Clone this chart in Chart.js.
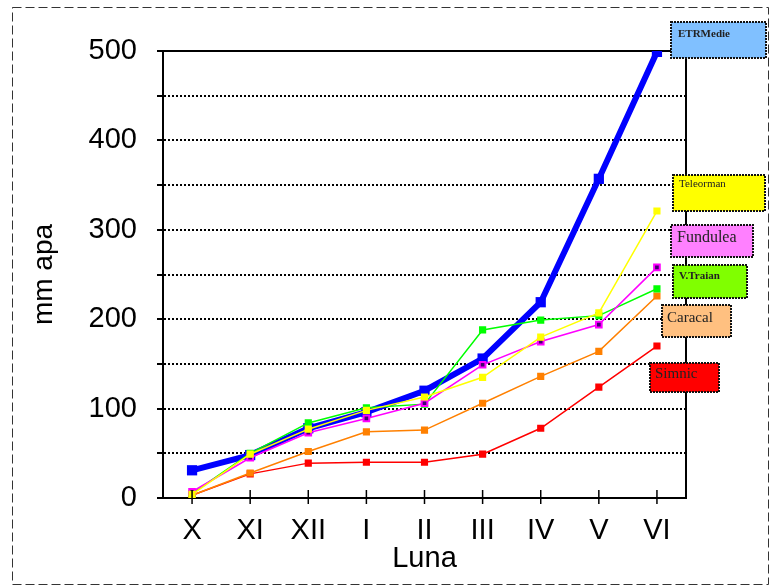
<!DOCTYPE html>
<html>
<head>
<meta charset="utf-8">
<script src="https://cdn.jsdelivr.net/npm/chart.js@4/dist/chart.umd.min.js"></script>
<style>
  body { margin: 0; background: #fff; }
  canvas { display: block; }
</style>
</head>
<body>
<canvas id="myChartLine" width="772" height="588"></canvas>
<script>
// luni
const luni = ['X', 'XI', 'XII', 'I', 'II', 'III', 'IV', 'V', 'VI'];

// mm apa cumulat
const etrMedie = [31, 48, 78, 96, 120, 156, 219, 357, 499];
const teleorman = [4, 49, 77, 98, 113, 135, 180, 207, 321];
const fundulea = [7, 45, 73, 89, 106, 149, 175, 194, 258];
const vTraian = [5, 50, 84, 101, 105, 188, 199, 204, 234];
const caracal = [3, 28, 52, 74, 76, 106, 136, 164, 226];
const simnic = [3, 27, 39, 40, 40, 49, 78, 124, 170];

// etichete din dreapta
const etichete = ['ETRMedie', 'Teleorman', 'Fundulea', 'V.Traian', 'Caracal', 'Simnic'];

const casete = [
  { x: 671, y: 22, w: 95, h: 36, fill: '#80C0FF', font: 'bold 11px "Liberation Serif"', tx: 678, ty: 37 },
  { x: 673, y: 175, w: 92, h: 36, fill: '#FFFF00', font: '11px "Liberation Serif"', tx: 679, ty: 187 },
  { x: 671, y: 225, w: 82, h: 32, fill: '#FF80FF', font: '16px "Liberation Serif"', tx: 677, ty: 242 },
  { x: 673, y: 265, w: 74, h: 33, fill: '#80FF00', font: 'bold 11px "Liberation Serif"', tx: 679, ty: 279 },
  { x: 662, y: 305, w: 69, h: 32, fill: '#FFC080', font: '15px "Liberation Serif"', tx: 667, ty: 322 },
  { x: 650, y: 363, w: 69, h: 29, fill: '#FF0000', font: '15px "Liberation Serif"', tx: 655, ty: 378 }
];

const decor = {
  id: 'decor',
  beforeDraw(chart) {
    const c = chart.ctx;
    c.save();
    c.fillStyle = '#fff';
    c.fillRect(0, 0, chart.width, chart.height);
    c.strokeStyle = '#333';
    c.lineWidth = 1;
    c.setLineDash([9, 4]);
    c.strokeRect(12.5, 7.5, 756, 577);
    c.restore();
  },
  afterDatasetsDraw(chart) {
    const c = chart.ctx;
    const a = chart.chartArea;
    c.save();
    // bordura dreapta
    c.strokeStyle = '#000';
    c.lineWidth = 2;
    c.beginPath();
    c.moveTo(a.right, a.top);
    c.lineTo(a.right, a.bottom);
    c.stroke();
    // liniute pe axa X
    const xs = chart.scales.x;
    c.lineWidth = 1.5;
    luni.forEach((l, i) => {
      const px = xs.getPixelForValue(i);
      c.beginPath();
      c.moveTo(px, a.bottom - 8);
      c.lineTo(px, a.bottom + 6);
      c.stroke();
    });
    // casete
    casete.forEach((b, i) => {
      c.fillStyle = b.fill;
      c.fillRect(b.x, b.y, b.w, b.h);
      c.setLineDash([2, 1]);
      c.lineWidth = 2;
      c.strokeStyle = '#111';
      c.strokeRect(b.x, b.y, b.w, b.h);
      c.setLineDash([]);
      c.fillStyle = '#222';
      c.font = b.font;
      c.textBaseline = 'alphabetic';
      c.fillText(etichete[i], b.tx, b.ty);
    });
    c.restore();
  }
};

const ctx = document.getElementById('myChartLine');
new Chart(ctx, {
  type: 'line',
  data: {
    labels: luni,
    datasets: [
      { label: etichete[1], data: teleorman, borderColor: '#FFFF00', backgroundColor: '#FFFF00', borderWidth: 1.5, pointStyle: 'rect', pointRadius: 4 },
      { label: etichete[2], data: fundulea, borderColor: '#FF00FF', backgroundColor: '#400070', pointBorderColor: '#FF00FF', pointBorderWidth: 2, borderWidth: 1.5, pointStyle: 'rect', pointRadius: 4 },
      { label: etichete[3], data: vTraian, borderColor: '#00FF00', backgroundColor: '#00FF00', borderWidth: 1.5, pointStyle: 'rect', pointRadius: 4 },
      { label: etichete[4], data: caracal, borderColor: '#FF8000', backgroundColor: '#FF8000', borderWidth: 1.5, pointStyle: 'rect', pointRadius: 4 },
      { label: etichete[5], data: simnic, borderColor: '#FF0000', backgroundColor: '#FF0000', borderWidth: 1.5, pointStyle: 'rect', pointRadius: 4 },
      { label: etichete[0], data: etrMedie, borderColor: '#0000FF', backgroundColor: '#000090', pointBorderColor: '#0000FF', borderWidth: 6, pointStyle: 'rect', pointRadius: 3 }
    ]
  },
  options: {
    responsive: false,
    animation: false,
    devicePixelRatio: 1,
    layout: { padding: { left: 0, top: 51, right: 86, bottom: 0 } },
    plugins: { legend: { display: false }, tooltip: { enabled: false } },
    elements: { line: { tension: 0 } },
    scales: {
      x: {
        offset: true,
        grid: { display: false },
        border: { display: true, color: '#000', width: 2 },
        ticks: { color: '#000', padding: 8, font: { family: 'Liberation Sans', size: 29 } },
        title: { display: true, text: 'Luna', color: '#000', padding: { top: 10, bottom: 12 }, font: { family: 'Liberation Sans', size: 29 } },
        afterFit(s) { s.height = 90; }
      },
      y: {
        min: 0,
        max: 500,
        ticks: {
          stepSize: 50,
          color: '#000',
          padding: 20,
          font: { family: 'Liberation Sans', size: 29 },
          callback: v => (v % 100 === 0 ? v : '')
        },
        grid: {
          color: '#000',
          lineWidth: 2,
          tickLength: 6
        },
        border: {
          display: true,
          color: '#000',
          width: 2,
          dash: c => (c.tick && c.tick.value === 500 ? [] : [2, 2])
        },
        title: { display: true, text: 'mm apa', color: '#000', padding: { top: 27, bottom: 0 }, font: { family: 'Liberation Sans', size: 28 } },
        afterFit(s) { s.width = 163; }
      }
    }
  },
  plugins: [decor]
});
</script>
</body>
</html>
